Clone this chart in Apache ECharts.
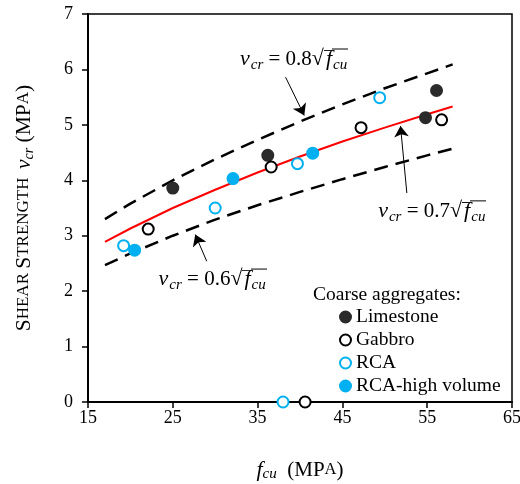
<!DOCTYPE html>
<html>
<head>
<meta charset="utf-8">
<script src="https://cdn.jsdelivr.net/npm/echarts@6/dist/echarts.min.js"></script>
<style>
  html, body { margin: 0; padding: 0; background: #fff; }
  #main { width: 520px; height: 484px; }
</style>
</head>
<body>
<div id="main"></div>
<script>
// test results [fcu, vcr]
const limestone = [[25.0, 3.86], [36.2, 4.45], [54.8, 5.13], [56.1, 5.62]];
const gabbro = [[22.1, 3.12], [36.6, 4.24], [47.2, 4.95], [56.7, 5.09], [40.6, 0]];
const rca = [[19.2, 2.82], [30.0, 3.50], [39.7, 4.30], [49.4, 5.49], [38.0, 0]];
const rcaHigh = [[20.5, 2.74], [32.1, 4.03], [41.5, 4.49]];

// code curves
const curveFcu = [17, 20, 25, 30, 35, 40, 45, 50, 55, 58];
const curve08 = [3.30, 3.58, 4.00, 4.38, 4.73, 5.06, 5.37, 5.66, 5.93, 6.09];
const curve07 = [2.89, 3.13, 3.50, 3.83, 4.14, 4.43, 4.70, 4.95, 5.19, 5.33];
const curve06 = [2.47, 2.68, 3.00, 3.29, 3.55, 3.79, 4.02, 4.24, 4.45, 4.57];

const seriesNames = ['Limestone', 'Gabbro', 'RCA', 'RCA-high volume'];
const coefs = ['0.8', '0.7', '0.6'];

// where the formula labels and their arrows sit (data coords)
const labelAt = [[39.3, 6.18], [55.6, 3.44], [29.7, 2.21]];
const arrows = [
  [[38.3, 5.86], [40.5, 5.17]],
  [[52.6, 3.77], [51.85, 4.98]],
  [[29.0, 2.54], [27.65, 3.02]]
];

const serif = 'Liberation Serif';
const blue = '#00b0f0';

function pairs(ys) {
  return curveFcu.map(function (x, i) { return [x, ys[i]]; });
}

// little bar image used as the radical's overline
const bar = document.createElement('canvas');
bar.width = 4; bar.height = 26;
const g = bar.getContext('2d');
g.fillStyle = '#000';
g.fillRect(0, 2, 4, 1);

const mathRich = {
  v: { fontFamily: serif, fontStyle: 'italic', fontSize: 22, lineHeight: 26, color: '#000' },
  cr: { fontFamily: serif, fontStyle: 'italic', fontSize: 15, lineHeight: 15, padding: [11, 0, 0, 1], color: '#000' },
  t: { fontFamily: serif, fontSize: 21, lineHeight: 26, color: '#000' },
  sq: { fontFamily: serif, fontSize: 22, lineHeight: 26, color: '#000' },
  f: { fontFamily: serif, fontStyle: 'italic', fontSize: 22, lineHeight: 26, padding: [0, 0, 0, 2], backgroundColor: { image: bar }, color: '#000' },
  cu: { fontFamily: serif, fontStyle: 'italic', fontSize: 15, lineHeight: 15, padding: [11, 1, 0, 1], backgroundColor: { image: bar }, color: '#000' }
};

function mathLabel(k) {
  return '{v|v}{cr|cr}{t| = ' + k + '}{sq|√}{f|f}{cu|cu}';
}

function curveSeries(name, ys, color, dashed, idx) {
  return {
    name: name,
    type: 'line',
    data: pairs(ys),
    showSymbol: false,
    symbol: 'none',
    lineStyle: { color: color, width: dashed ? 2.5 : 2, type: dashed ? [14, 8] : 'solid' },
    z: 2,
    markLine: {
      silent: true,
      symbol: ['none', 'arrow'],
      symbolSize: 11,
      label: { show: false },
      lineStyle: { color: '#000', width: 1, type: 'solid' },
      data: [[{ coord: arrows[idx][0] }, { coord: arrows[idx][1] }]]
    },
    markPoint: {
      silent: true,
      symbol: 'circle',
      symbolSize: 1,
      itemStyle: { color: 'rgba(0,0,0,0)' },
      label: { show: true, position: 'inside', formatter: mathLabel(coefs[idx]), rich: mathRich },
      data: [{ coord: labelAt[idx] }]
    }
  };
}

function pointSeries(name, data, fill, border) {
  return {
    name: name,
    type: 'scatter',
    data: data,
    symbol: 'circle',
    symbolSize: 11,
    clip: false,
    z: 5,
    itemStyle: { color: fill, borderColor: border, borderWidth: 2, opacity: 1 }
  };
}

const chart = echarts.init(document.getElementById('main'));
chart.setOption({
  animation: false,
  title: {
    text: 'Coarse aggregates:',
    left: 313, top: 285, padding: 0,
    textStyle: { fontFamily: serif, fontSize: 19.5, fontWeight: 'normal', color: '#000' }
  },
  legend: {
    data: seriesNames,
    orient: 'vertical',
    left: 339, top: 307, padding: 0,
    itemWidth: 11, itemHeight: 11,
    itemGap: 3,
    icon: 'circle',
    textStyle: { fontFamily: serif, fontSize: 19.5, color: '#000' }
  },
  grid: {
    left: 88, right: 8, top: 14, bottom: 82,
    outerBoundsMode: 'none',
    show: true, borderColor: '#000', borderWidth: 1.5
  },
  xAxis: {
    type: 'value', min: 15, max: 65, interval: 10,
    axisLine: { onZero: false, lineStyle: { color: '#000', width: 2 } },
    axisTick: { show: true, length: 6, lineStyle: { color: '#000', width: 1.5 } },
    splitLine: { show: false },
    axisLabel: { fontFamily: serif, fontSize: 18, color: '#000', margin: 7 },
    name: '{f|f}{cu|cu}{t|  (MP}{s|A}{t|)}',
    nameLocation: 'middle', nameGap: 56,
    nameTextStyle: {
      rich: {
        f: { fontFamily: serif, fontStyle: 'italic', fontSize: 22, lineHeight: 24, color: '#000' },
        cu: { fontFamily: serif, fontStyle: 'italic', fontSize: 15, lineHeight: 15, padding: [9, 0, 0, 0], color: '#000' },
        t: { fontFamily: serif, fontSize: 21, lineHeight: 24, color: '#000' },
        s: { fontFamily: serif, fontSize: 16.5, lineHeight: 24, color: '#000' }
      }
    }
  },
  yAxis: {
    type: 'value', min: 0, max: 7, interval: 1,
    axisLine: { onZero: false, lineStyle: { color: '#000', width: 2 } },
    axisTick: { show: true, length: 6, lineStyle: { color: '#000', width: 1.5 } },
    splitLine: { show: false },
    axisLabel: { fontFamily: serif, fontSize: 18, color: '#000', margin: 15 },
    name: '{b|S}{s|HEAR }{b|S}{s|TRENGTH  }{v|v}{cr|cr}{b| (MP}{s|A}{b|)}',
    nameLocation: 'middle', nameGap: 52,
    nameTextStyle: {
      rich: {
        b: { fontFamily: serif, fontSize: 21.5, lineHeight: 24, color: '#000' },
        s: { fontFamily: serif, fontSize: 17, lineHeight: 24, color: '#000' },
        v: { fontFamily: serif, fontStyle: 'italic', fontSize: 21.5, lineHeight: 24, color: '#000' },
        cr: { fontFamily: serif, fontStyle: 'italic', fontSize: 14, lineHeight: 14, padding: [10, 0, 0, 0], color: '#000' }
      }
    }
  },
  series: [
    curveSeries('c08', curve08, '#000', true, 0),
    curveSeries('c07', curve07, '#ff0000', false, 1),
    curveSeries('c06', curve06, '#000', true, 2),
    pointSeries(seriesNames[0], limestone, '#2b2b2b', '#2b2b2b'),
    pointSeries(seriesNames[1], gabbro, '#fff', '#000'),
    pointSeries(seriesNames[2], rca, '#fff', blue),
    pointSeries(seriesNames[3], rcaHigh, blue, blue)
  ]
});
</script>
</body>
</html>
